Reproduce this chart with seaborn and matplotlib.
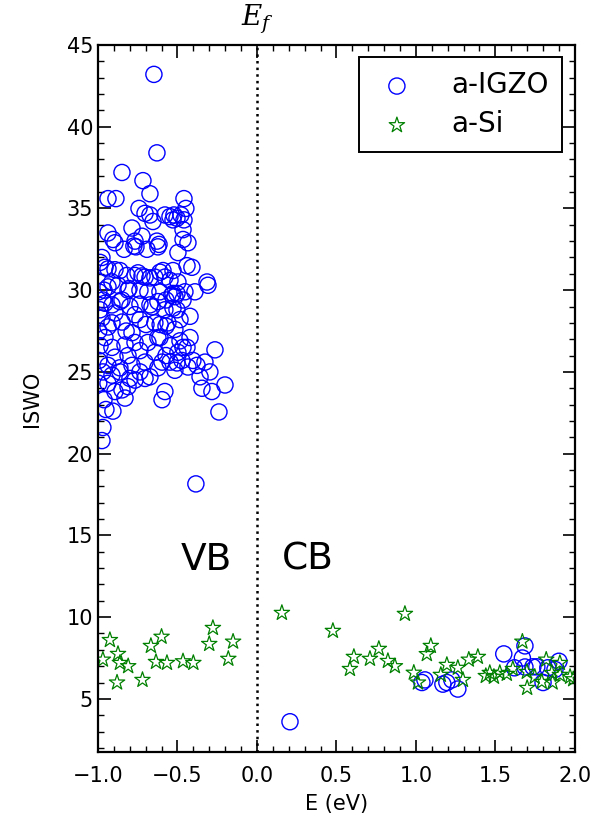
import numpy as np
import pandas as pd
import seaborn as sns
import matplotlib
matplotlib.use("Agg")
import matplotlib.pyplot as plt
from matplotlib.ticker import MultipleLocator

# a-IGZO states (energy relative to Ef in eV, ISWO)
igzo_vb_e = [
    -0.648, -0.629, -0.849, -0.717, -0.673, -0.937, -0.887, -0.459, -0.742, -0.447,
    -0.704, -0.673, -0.579, -0.547, -0.522, -0.478, -0.459, -0.654, -0.528, -0.503,
    -0.786, -0.937, -0.465, -0.723, -0.906, -0.767, -0.629, -0.465, -0.434, -0.774,
    -0.616, -0.893, -0.761, -0.623, -0.497, -0.836, -0.692, -0.975, -0.987,
    -0.956, -0.937, -0.893, -0.862, -0.818, -0.748, -0.767, -0.723, -0.704, -0.673,
    -0.642, -0.610, -0.579, -0.591, -0.547, -0.528, -0.497, -0.440, -0.409, -0.314,
    -0.308, -0.390, -0.453, -0.503, -0.535, -0.528, -0.610, -0.686, -0.736, -0.811,
    -0.805, -0.874, -0.912, -0.937, -0.962,
    -0.969, -0.956, -0.912, -0.849, -0.862, -0.799, -0.736, -0.660, -0.673, -0.623,
    -0.572, -0.516, -0.579, -0.528, -0.465, -0.421, -0.503, -0.893, -0.767, -0.987,
    -0.975, -0.937, -0.849, -0.912, -0.642, -0.560, -0.484, -0.572, -0.609, -0.698,
    -0.736, -0.786, -0.623, -0.956, -0.516, -0.421, -0.823,
    -0.987, -0.912, -0.830, -0.767, -0.686, -0.610, -0.547, -0.484, -0.264, -0.893,
    -0.811, -0.736, -0.642, -0.572, -0.497, -0.937, -0.862, -0.786, -0.704, -0.623,
    -0.547, -0.472, -0.465, -0.440, -0.403, -0.377, -0.434, -0.503, -0.327, -0.296,
    -0.358, -0.969, -0.912, -0.862, -0.799, -0.736, -0.673, -0.597, -0.516,
    -0.201, -0.346, -0.283, -0.937, -0.811, -0.893, -0.767, -0.704, -0.849, -0.830,
    -0.597, -0.579, -0.962, -0.950, -0.906, -0.239, -0.969, -0.975, -0.384,
    -0.995, -0.995, -0.995, -0.995,
]
igzo_vb_iswo = [
    43.2, 38.4, 37.2, 36.7, 35.9, 35.6, 35.6, 35.6, 35.0, 35.0,
    34.7, 34.6, 34.6, 34.5, 34.6, 34.6, 34.3, 34.2, 34.3, 34.4,
    33.8, 33.5, 33.7, 33.3, 33.1, 33.0, 33.0, 33.1, 32.9, 32.7,
    32.8, 32.9, 32.65, 32.65, 32.3, 32.5, 32.5, 32.0, 31.7,
    31.4, 31.3, 31.25, 31.2, 30.9, 31.06, 30.9, 30.87, 30.8, 30.75,
    30.8, 31.1, 30.8, 31.2, 30.6, 31.2, 30.5, 31.5, 31.4, 30.5,
    30.3, 29.9, 29.9, 29.8, 29.7, 29.8, 29.9, 29.9, 30.0, 30.0,
    30.1, 30.3, 30.5, 30.2, 30.0,
    29.4, 29.2, 29.1, 29.4, 29.3, 29.0, 29.15, 28.98, 29.1, 29.3,
    29.4, 29.6, 28.8, 28.9, 29.4, 28.4, 28.8, 28.6, 28.5, 28.8,
    28.3, 27.75, 28.05, 28.0, 28.0, 28.0, 28.2, 27.8, 27.9, 27.9,
    28.2, 27.4, 27.1, 27.1, 27.6, 27.1, 27.5,
    26.6, 26.5, 26.65, 26.8, 26.8, 27.1, 26.6, 26.9, 26.35, 25.9,
    26.0, 26.3, 26.2, 26.0, 26.2, 25.4, 25.25, 25.4, 25.6, 25.25,
    25.6, 25.7, 26.5, 26.5, 25.7, 25.4, 25.3, 25.55, 25.6, 25.0,
    24.7, 25.0, 24.8, 25.0, 24.6, 25.0, 24.7, 25.6, 25.1,
    24.2, 24.0, 23.8, 24.3, 24.1, 23.8, 24.5, 24.6, 23.9, 23.4,
    23.3, 23.8, 23.3, 22.7, 22.6, 22.55, 21.6, 20.8, 18.15,
    29.9, 27.5, 25.7, 24.3,
]
igzo_cb_e = [0.208, 1.038, 1.057, 1.170, 1.195, 1.226, 1.264, 1.553, 1.620,
             1.670, 1.686, 1.686, 1.736, 1.761, 1.800, 1.830, 1.875, 1.900]
igzo_cb_iswo = [3.6, 6.0, 6.16, 5.9, 6.0, 6.16, 5.6, 7.75, 6.9,
                7.5, 8.24, 6.95, 6.96, 6.96, 6.0, 6.9, 6.8, 7.3]

# a-Si states
si_e = [
    -0.969, -0.925, -0.874, -0.862, -0.810, -0.880, -0.720, -0.667, -0.600, -0.635,
    -0.566, -0.465, -0.400, -0.300, -0.277, -0.180, -0.150,
    0.157, 0.478, 0.931, 0.585, 0.610, 0.711, 0.767, 0.824, 0.868, 0.987, 1.013,
    1.069, 1.094, 1.157, 1.195, 1.264, 1.296, 1.333, 1.390, 1.440, 1.465, 1.491,
    1.528, 1.572, 1.610, 1.670, 1.698, 1.700, 1.748, 1.792, 1.820, 1.855, 1.860,
    1.906, 1.906, 1.970, 1.990,
]
si_iswo = [
    7.4, 8.6, 7.75, 7.2, 7.0, 6.0, 6.16, 8.24, 8.8, 7.26,
    7.2, 7.3, 7.2, 8.36, 9.34, 7.45, 8.5,
    10.26, 9.16, 10.2, 6.83, 7.57, 7.45, 8.06, 7.32, 7.0, 6.6, 6.0,
    7.74, 8.24, 6.47, 7.08, 6.9, 6.16, 7.4, 7.57, 6.4, 6.59, 6.35,
    6.59, 6.53, 6.83, 8.5, 6.65, 5.67, 6.35, 6.04, 7.4, 6.59, 6.0,
    7.2, 6.47, 6.35, 6.2,
]

igzo = pd.DataFrame({"E": igzo_vb_e + igzo_cb_e, "ISWO": igzo_vb_iswo + igzo_cb_iswo})
si = pd.DataFrame({"E": si_e, "ISWO": si_iswo})

sns.set_style("ticks", {"xtick.direction": "in", "ytick.direction": "in",
                        "axes.edgecolor": "black", "text.color": "black",
                        "axes.labelcolor": "black", "xtick.color": "black",
                        "ytick.color": "black"})
plt.rcParams["font.family"] = ["DejaVu Sans"]
plt.rcParams["mathtext.fontset"] = "dejavuserif"

fig = plt.figure(figsize=(6.07, 8.25), dpi=100)
ax = fig.add_axes([0.1614, 0.0885, 0.7856, 0.857])

sns.scatterplot(data=igzo, x="E", y="ISWO", marker="o", s=135,
                facecolors="none", edgecolor="blue", linewidth=1.0,
                label="a-IGZO", ax=ax)
sns.scatterplot(data=si, x="E", y="ISWO", marker="*", s=135,
                facecolors="none", edgecolor="green", linewidth=0.9,
                label="a-Si", ax=ax)

ax.axvline(0.0, color="black", linestyle=":", linewidth=1.8)

ax.set_xlim(-1.0, 2.0)
ax.set_ylim(1.75, 45)
ax.xaxis.set_major_locator(MultipleLocator(0.5))
ax.xaxis.set_minor_locator(MultipleLocator(0.1))
ax.yaxis.set_major_locator(MultipleLocator(5))
ax.yaxis.set_minor_locator(MultipleLocator(1))
ax.tick_params(which="both", direction="in", top=True, right=True,
               labelsize=15, colors="black")
ax.tick_params(which="major", length=9, width=1.2)
ax.tick_params(which="minor", length=4.5, width=1.0)
ax.tick_params(axis="x", which="major", pad=10)
for sp in ax.spines.values():
    sp.set_linewidth(1.6)

ax.set_xlabel("E (eV)", fontsize=15, labelpad=6)
ax.set_ylabel("ISWO", fontsize=15, labelpad=18)

ax.text(-0.32, 13.5, "VB", fontsize=27, ha="center", va="center")
ax.text(0.32, 13.5, "CB", fontsize=27, ha="center", va="center")
ax.text(0.0, 1.012, "$E_f$", transform=ax.get_xaxis_transform(),
        fontsize=20, ha="center", va="bottom")

leg = ax.legend(loc="upper right", fontsize=20, frameon=True, fancybox=False,
                edgecolor="black", borderpad=0.5, handletextpad=1.1,
                labelspacing=0.4, borderaxespad=0.45, markerscale=1.0,
                handlelength=1.7)
leg.get_frame().set_linewidth(1.4)
leg.get_frame().set_alpha(1)

fig.savefig("out.png", dpi=100)
